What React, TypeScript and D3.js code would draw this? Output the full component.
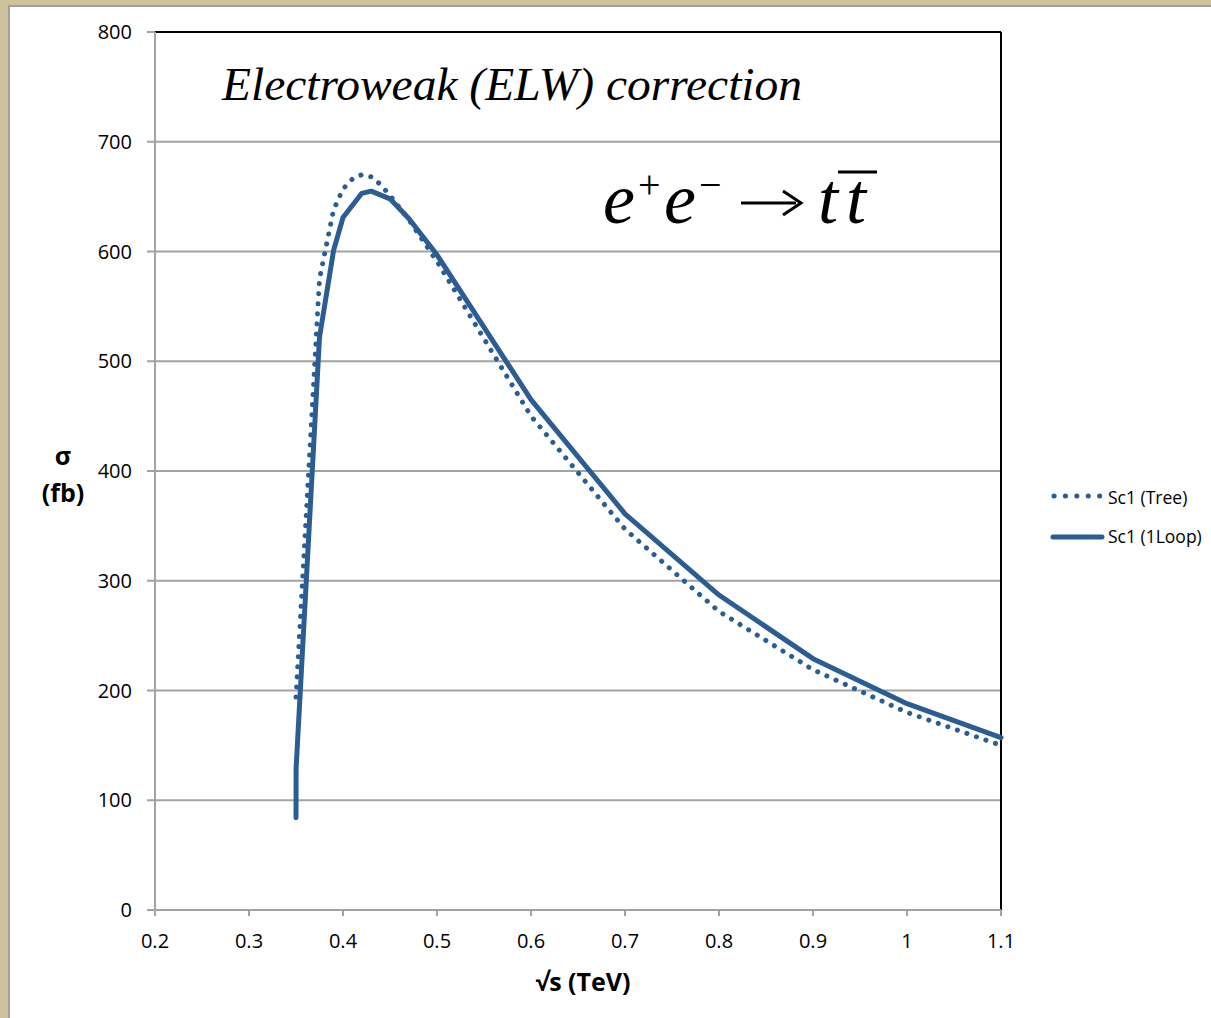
import React from "react";
import * as d3 from "d3";

const xTicks = [0.2, 0.3, 0.4, 0.5, 0.6, 0.7, 0.8, 0.9, 1, 1.1];
const yTicks = [0, 100, 200, 300, 400, 500, 600, 700, 800];

const treeX = [0.35, 0.375, 0.39, 0.4, 0.41, 0.42, 0.43, 0.44, 0.45, 0.47, 0.5, 0.6, 0.7, 0.8, 0.9, 1.0, 1.1];
const treeY = [194, 575, 638, 657, 666, 670, 668, 661, 651, 629, 591, 450, 347, 272, 219, 180, 150];

const loopX = [0.35, 0.3501, 0.375, 0.39, 0.4, 0.42, 0.43, 0.45, 0.47, 0.5, 0.6, 0.7, 0.8, 0.9, 1.0, 1.1];
const loopY = [84, 129, 522, 601, 631, 653, 655, 648, 630, 597, 465, 361, 287, 229, 188, 157];

const seriesNames = ["Sc1 (Tree)", "Sc1 (1Loop)"];

const W = 1211;
const H = 1018;
const L = 155, R = 1001, T = 32, B = 910;
const COLOR = "#2b5d93";
const GRID = "#a3a3a3";
const FONT = "'Open Sans', 'Liberation Sans', sans-serif";
const SERIF = "'Liberation Serif', 'Times New Roman', serif";

export default function App() {
  const x = d3.scaleLinear().domain([0.2, 1.1]).range([L, R]);
  const y = d3.scaleLinear().domain([0, 800]).range([B, T]);
  const line = d3.line<[number, number]>().x((d) => x(d[0])).y((d) => y(d[1]));
  const tree = line(treeX.map((v, i) => [v, treeY[i]] as [number, number])) || "";
  const loop = line(loopX.map((v, i) => [v, loopY[i]] as [number, number])) || "";

  return (
    <div style={{ position: "fixed", left: 0, top: 0 }}>
      <svg width={W} height={H} style={{ display: "block" }}>
        <rect x={0} y={0} width={W} height={H} fill="#cdc29c" />
        <rect x={9} y={6} width={W} height={H} fill="#ffffff" stroke="#a0a0a0" strokeWidth={2} />

        {yTicks.filter((t) => t > 0 && t < 800).map((t) => (
          <line key={"g" + t} x1={L} x2={R} y1={y(t)} y2={y(t)} stroke={GRID} strokeWidth={2} />
        ))}
        <line x1={L} x2={R} y1={y(800)} y2={y(800)} stroke="#000" strokeWidth={2} />
        <line x1={R} x2={R} y1={T} y2={B} stroke="#000" strokeWidth={2} />
        <line x1={L} x2={L} y1={T} y2={B + 6} stroke={GRID} strokeWidth={2} />
        <line x1={L} x2={R} y1={B} y2={B} stroke={GRID} strokeWidth={2} />
        {yTicks.map((t) => (
          <line key={"yt" + t} x1={L - 8} x2={L} y1={y(t)} y2={y(t)} stroke={GRID} strokeWidth={2} />
        ))}
        {xTicks.map((t) => (
          <line key={"xt" + t} x1={x(t)} x2={x(t)} y1={B} y2={B + 6} stroke={GRID} strokeWidth={2} />
        ))}
        {yTicks.map((t) => (
          <text key={"yl" + t} x={132} y={y(t) + 7} textAnchor="end" fontFamily={FONT} fontSize={20} fill="#000">
            {t}
          </text>
        ))}
        {xTicks.map((t) => (
          <text key={"xl" + t} x={x(t)} y={948} textAnchor="middle" fontFamily={FONT} fontSize={20} fill="#000">
            {String(t)}
          </text>
        ))}

        <text x={63} y={465} textAnchor="middle" fontFamily={FONT} fontSize={25} fontWeight="bold">σ</text>
        <text x={63} y={502} textAnchor="middle" fontFamily={FONT} fontSize={25} fontWeight="bold">(fb)</text>
        <text x={583} y={991} textAnchor="middle" fontFamily={FONT} fontSize={25} fontWeight="bold">√s (TeV)</text>

        <text x={222} y={100} fontFamily={SERIF} fontStyle="italic" fontSize={46} fill="#000" textLength={580} lengthAdjust="spacingAndGlyphs">
          Electroweak (ELW) correction
        </text>

        <g fontFamily={SERIF} fontStyle="italic" fill="#000">
          <text x={603} y={223} fontSize={72}>e</text>
          <text x={638} y={198} fontSize={40} fontStyle="normal">+</text>
          <text x={664} y={223} fontSize={72}>e</text>
          <text x={699} y={198} fontSize={40} fontStyle="normal">−</text>
          <text x={818} y={223} fontSize={72}>t</text>
          <text x={846} y={223} fontSize={72}>t</text>
        </g>
        <line x1={838} x2={877} y1={172} y2={172} stroke="#000" strokeWidth={3} />
        <line x1={741} x2={796} y1={203} y2={203} stroke="#000" strokeWidth={3} />
        <path d="M783,191 L801,203 L783,215" fill="none" stroke="#000" strokeWidth={3} />

        <path d={tree} fill="none" stroke={COLOR} strokeWidth={5} strokeLinecap="round" strokeDasharray="0.1 10" />
        <path d={loop} fill="none" stroke={COLOR} strokeWidth={5} strokeLinecap="round" strokeLinejoin="round" />

        <line x1={1054} x2={1100} y1={496} y2={496} stroke={COLOR} strokeWidth={5} strokeLinecap="round" strokeDasharray="0.1 11.3" />
        <text x={1108} y={504} fontFamily={FONT} fontSize={17.5} fill="#000">{seriesNames[0]}</text>
        <line x1={1053} x2={1102} y1={537} y2={537} stroke={COLOR} strokeWidth={5} strokeLinecap="round" />
        <text x={1108} y={543} fontFamily={FONT} fontSize={17.5} fill="#000">{seriesNames[1]}</text>
      </svg>
    </div>
  );
}
